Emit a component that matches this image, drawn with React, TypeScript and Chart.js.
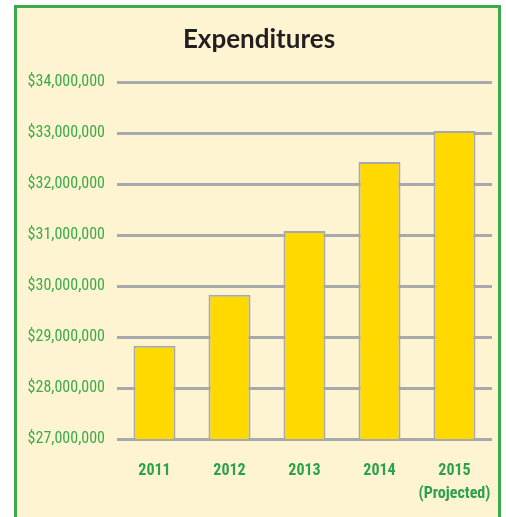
import React, { useEffect, useRef } from "react";
import { Chart, registerables } from "chart.js";

Chart.register(...registerables);

const categories: (string | string[])[] = ["2011", "2012", "2013", "2014", ["2015", "(Projected)"]];
const expenditures: number[] = [28830000, 29830000, 31080000, 32430000, 33040000];
const yMin = 27000000;
const yMax = 34000000;
const yStep = 1000000;
const title = "Expenditures";

const NARROW = "'Liberation Sans Narrow', 'Roboto Condensed', Roboto, 'Liberation Sans', sans-serif";

const framePlugin = {
  id: "frame",
  beforeDraw(chart: any) {
    const { ctx, width, height } = chart;
    ctx.save();
    ctx.fillStyle = "#ffffff";
    ctx.fillRect(0, 0, width, height);
    ctx.fillStyle = "#FFF4D1";
    ctx.fillRect(15, 6, 485, height);
    ctx.strokeStyle = "#3AAA4A";
    ctx.lineWidth = 3;
    ctx.strokeRect(15.5, 6.5, 484, height - 5);
    ctx.fillStyle = "#231F20";
    ctx.font = "bold 26px Lato, 'Open Sans', sans-serif";
    ctx.textAlign = "center";
    ctx.textBaseline = "middle";
    ctx.fillText(title, 259, 40);
    ctx.restore();
  },
};

export default function App() {
  const ref = useRef<HTMLCanvasElement>(null);
  useEffect(() => {
    if (!ref.current) return;
    const chart = new Chart(ref.current, {
      type: "bar",
      data: {
        labels: categories,
        datasets: [
          {
            data: expenditures,
            backgroundColor: "#FFD900",
            borderColor: "#A7A9AC",
            borderWidth: 2,
            borderSkipped: false,
            categoryPercentage: 1,
            barPercentage: 0.56,
          },
        ],
      },
      options: {
        animation: false,
        responsive: false,
        maintainAspectRatio: false,
        layout: { padding: { top: 82, right: 14, left: 0, bottom: 0 } },
        plugins: { legend: { display: false }, title: { display: false }, tooltip: { enabled: false } },
        scales: {
          x: {
            grid: { display: false },
            border: { display: false },
            ticks: {
              color: "#2AA14B",
              font: { family: NARROW, size: 16, weight: "bold", lineHeight: 1.4 },
              padding: 13,
              maxRotation: 0,
              autoSkip: false,
            },
            afterFit: (s: any) => {
              s.height = 78;
              s.paddingLeft = 0;
              s.paddingRight = 0;
            },
          },
          y: {
            min: yMin,
            max: yMax,
            border: { display: false },
            grid: { color: "#A7A9AC", lineWidth: 3, drawTicks: false },
            ticks: {
              stepSize: yStep,
              color: "#3AAA4A",
              padding: 12,
              font: { family: NARROW, size: 16 },
              callback: (v: any) => "$" + Number(v).toLocaleString("en-US"),
            },
            afterFit: (s: any) => {
              s.width = 117;
            },
          },
        },
      },
      plugins: [framePlugin],
    });
    return () => chart.destroy();
  }, []);
  return (
    <div style={{ position: "fixed", left: 0, top: 0, width: 506, height: 517 }}>
      <canvas ref={ref} width={506} height={517} style={{ display: "block" }} />
    </div>
  );
}
